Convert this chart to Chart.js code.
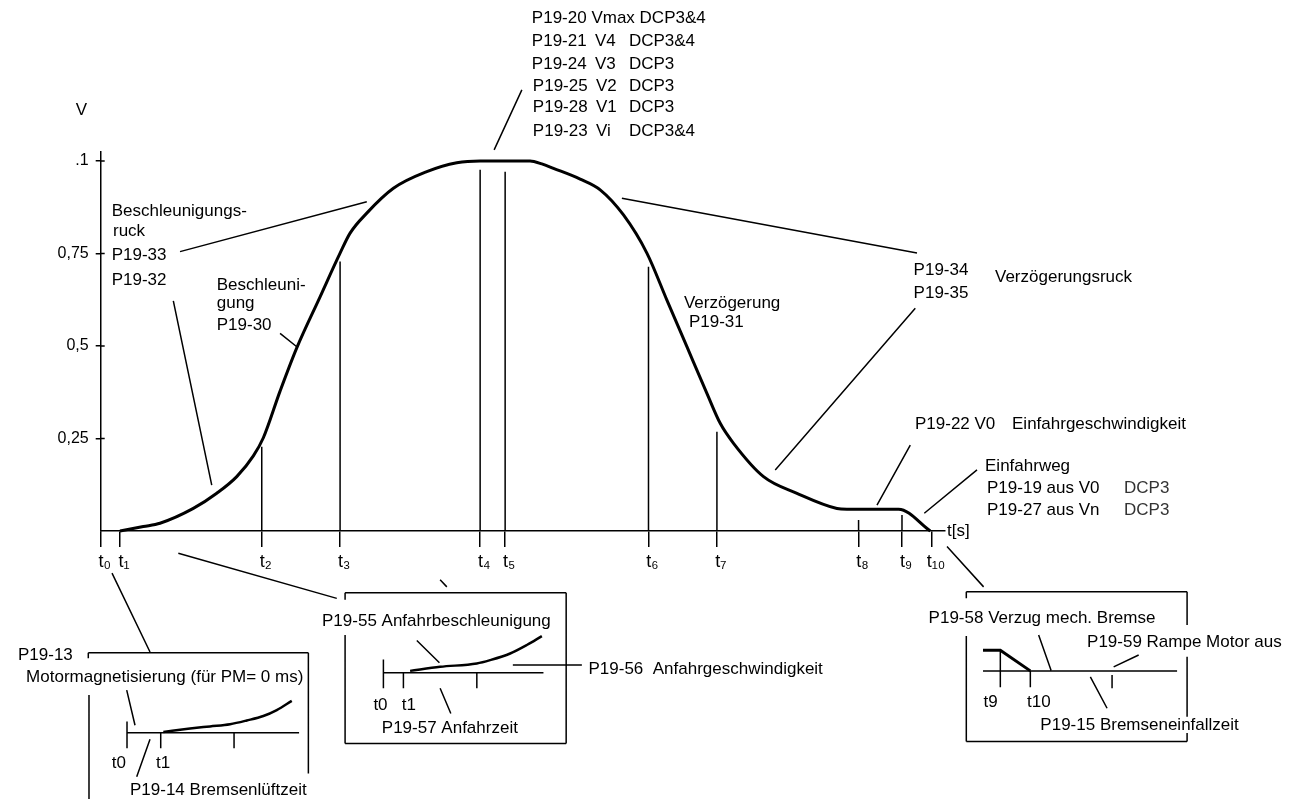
<!DOCTYPE html>
<html>
<head>
<meta charset="utf-8">
<script src="https://cdn.jsdelivr.net/npm/chart.js@4.4.1/dist/chart.umd.min.js"></script>
<style>
  html, body { margin: 0; background: #fff; }
  #wrap { width: 1290px; height: 799px; }
</style>
</head>
<body>
<div id="wrap"><canvas id="chart"></canvas></div>
<script>
// time marks t0..t10 on the time axis and how high each marker line reaches
const tickTimes  = [0, 1.93, 16.1, 23.93, 37.93, 40.43, 54.76, 61.6, 75.76, 80.1, 83.1]
const tickLabels = ['t₀', 't₁', 't₂', 't₃', 't₄', 't₅', 't₆', 't₇', 't₈', 't₉', 't₁₀']
const markerTops = [0, 0, 0.228, 0.728, 0.976, 0.971, 0.714, 0.268, 0.03, 0.043, 0]

const vTicks      = [0.25, 0.5, 0.75, 1]
const vTickLabels = ['0,25', '0,5', '0,75', '.1']

// travel curve V(t)
const profileT = [1.93, 4.26, 5.93, 9.26, 11.6, 13.6, 15.26, 16.26, 17.93, 19.6, 21.93, 23.93, 24.93, 26.6,
  29.26, 32.6, 35.6, 37.93, 42.93, 44.1, 45.26, 47.93, 49.93, 52.26, 54.6, 56.6, 58.6, 60.6, 61.93, 63.26,
  66.26, 69.6, 73.6, 74.6, 79.76, 82.93]
const profileV = [0, 0.012, 0.021, 0.061, 0.102, 0.147, 0.203, 0.252, 0.378, 0.495, 0.633, 0.751, 0.805, 0.859,
  0.926, 0.971, 0.995, 1.0, 1.0, 0.992, 0.98, 0.951, 0.922, 0.854, 0.751, 0.624, 0.498, 0.372, 0.291, 0.237,
  0.147, 0.102, 0.061, 0.059, 0.059, 0]

// detail views (drawn below the axis, same scales)
const startT  = [6.26, 8.93, 10.93, 12.93, 14.6, 16.26, 17.6, 19.1]
const startV  = [-0.543, -0.534, -0.528, -0.522, -0.512, -0.5, -0.484, -0.459]
const creepT  = [30.93, 33.93, 37.6, 38.93, 40.93, 42.6, 44.1]
const creepV  = [-0.378, -0.367, -0.358, -0.349, -0.331, -0.308, -0.284]
const brakeT  = [88.2, 89.93, 92.93]
const brakeV  = [-0.322, -0.322, -0.378]

// leader lines, frames and little axes of the detail views: [t1, v1, t2, v2]
const segments = [
  // leaders on the main curve
  [42.1, 1.192, 39.33, 1.03],
  [7.93, 0.755, 26.6, 0.89],
  [7.26, 0.622, 11.1, 0.124],
  [17.93, 0.534, 19.6, 0.498],
  [52.1, 0.899, 81.6, 0.751],
  [81.43, 0.602, 67.43, 0.165],
  [80.93, 0.232, 77.6, 0.07],
  [87.6, 0.165, 82.33, 0.048],
  // leaders to the detail views
  [1.13, -0.114, 4.93, -0.327],
  [7.76, -0.06, 23.6, -0.182],
  [33.93, -0.132, 34.6, -0.151],
  [84.6, -0.042, 88.26, -0.151],
  // view 1: brake release
  [-1.24, -0.329, 20.76, -0.329],
  [-1.24, -0.329, -1.24, -0.344],
  [-1.17, -0.443, -1.17, -0.73],
  [20.76, -0.329, 20.76, -0.655],
  [2.63, -0.545, 19.83, -0.545],
  [2.63, -0.515, 2.63, -0.587],
  [6.0, -0.545, 6.0, -0.587],
  [13.33, -0.545, 13.33, -0.587],
  [2.6, -0.43, 3.43, -0.525],
  [4.93, -0.563, 3.6, -0.664],
  // view 2: start-up
  [24.43, -0.167, 46.53, -0.167],
  [24.43, -0.167, 24.43, -0.186],
  [24.43, -0.281, 24.43, -0.574],
  [46.53, -0.167, 46.53, -0.574],
  [24.43, -0.574, 46.53, -0.574],
  [28.26, -0.383, 44.26, -0.383],
  [28.26, -0.347, 28.26, -0.425],
  [30.26, -0.383, 30.26, -0.425],
  [37.6, -0.383, 37.6, -0.425],
  [31.6, -0.296, 33.86, -0.356],
  [41.2, -0.362, 48.1, -0.362],
  [33.93, -0.425, 35.0, -0.493],
  // view 3: stopping
  [86.53, -0.164, 108.6, -0.164],
  [86.53, -0.164, 86.53, -0.182],
  [86.53, -0.284, 86.53, -0.569],
  [86.53, -0.569, 108.6, -0.569],
  [108.6, -0.164, 108.6, -0.254],
  [108.6, -0.34, 108.6, -0.502],
  [108.6, -0.546, 108.6, -0.569],
  [88.2, -0.378, 107.6, -0.378],
  [89.93, -0.322, 89.93, -0.422],
  [92.93, -0.378, 92.93, -0.422],
  [101.1, -0.389, 101.1, -0.425],
  [93.76, -0.281, 95.0, -0.376],
  [103.76, -0.335, 101.26, -0.367],
  [98.93, -0.394, 100.6, -0.479]
]

// texts: [text, t, v, align, colour]
const notes = [
  ['V', -1.92, 1.138, 'center'],
  ['P19-20 Vmax DCP3&4', 43.1, 1.386],
  ['P19-21', 43.1, 1.322], ['V4', 49.4, 1.322], ['DCP3&4', 52.8, 1.322],
  ['P19-24', 43.1, 1.262], ['V3', 49.4, 1.262], ['DCP3', 52.8, 1.262],
  ['P19-25', 43.2, 1.203], ['V2', 49.5, 1.203], ['DCP3', 52.8, 1.203],
  ['P19-28', 43.2, 1.145], ['V1', 49.5, 1.145], ['DCP3', 52.8, 1.145],
  ['P19-23', 43.2, 1.081], ['Vi', 49.5, 1.081], ['DCP3&4', 52.8, 1.081],
  ['Beschleunigungs-', 1.1, 0.863],
  ['ruck', 1.23, 0.809],
  ['P19-33', 1.1, 0.744],
  ['P19-32', 1.1, 0.678],
  ['Beschleuni-', 11.6, 0.665],
  ['gung', 11.6, 0.615],
  ['P19-30', 11.6, 0.555],
  ['Verzögerung', 58.3, 0.615],
  ['P19-31', 58.8, 0.563],
  ['P19-34', 81.26, 0.705],
  ['P19-35', 81.26, 0.642],
  ['Verzögerungsruck', 89.4, 0.685],
  ['P19-22 V0', 81.4, 0.288], ['Einfahrgeschwindigkeit', 91.1, 0.288],
  ['Einfahrweg', 88.4, 0.174],
  ['P19-19 aus V0', 88.6, 0.115], ['DCP3', 102.3, 0.115, 'left', '#333'],
  ['P19-27 aus Vn', 88.6, 0.055], ['DCP3', 102.3, 0.055, 'left', '#333'],
  ['t[s]', 84.6, 0],
  ['P19-13', -8.27, -0.335],
  ['Motormagnetisierung (für PM= 0 ms)', 20.26, -0.395, 'right'],
  ['t0', 1.1, -0.628], ['t1', 5.53, -0.628],
  ['P19-14 Bremsenlüftzeit', 2.93, -0.7],
  ['P19-55 Anfahrbeschleunigung', 44.99, -0.245, 'right'],
  ['P19-56  Anfahrgeschwindigkeit', 48.76, -0.374],
  ['t0', 27.26, -0.47], ['t1', 30.1, -0.47],
  ['P19-57 Anfahrzeit', 28.1, -0.532],
  ['P19-58 Verzug mech. Bremse', 82.76, -0.236],
  ['P19-59 Rampe Motor aus', 98.6, -0.302],
  ['t9', 88.26, -0.464], ['t10', 92.6, -0.464],
  ['P19-15 Bremseneinfallzeit', 93.93, -0.524]
]

const FONT = '17px "Liberation Sans", Arial, sans-serif'
Chart.defaults.font.family = '"Liberation Sans", Arial, sans-serif'
Chart.defaults.color = '#000'

const toPoints = (ts, vs) => ts.map((t, i) => ({ x: t, y: vs[i] }))

// vertical marker lines from the axis up towards the curve, broken by null points
const markerPoints = tickTimes.flatMap((t, i) =>
  markerTops[i] > 0 ? [{ x: t, y: 0 }, { x: t, y: markerTops[i] }, { x: t, y: null }] : [])

const curveStyle = {
  borderColor: '#000',
  borderWidth: 3,
  pointRadius: 0,
  fill: false,
  clip: false,
  cubicInterpolationMode: 'monotone'
}

const sketchPlugin = {
  id: 'sketch',
  afterDatasetsDraw(chart) {
    const { ctx, scales: { x, y } } = chart
    const px = t => x.getPixelForValue(t)
    const py = v => y.getPixelForValue(v)

    ctx.save()
    ctx.strokeStyle = '#000'
    ctx.lineWidth = 1.5
    ctx.beginPath()
    for (const [t1, v1, t2, v2] of segments) {
      ctx.moveTo(px(t1), py(v1))
      ctx.lineTo(px(t2), py(v2))
    }
    // V ticks cross the axis a little on the inner side as well
    for (const v of vTicks) {
      ctx.moveTo(px(0), py(v))
      ctx.lineTo(px(0) + 4, py(v))
    }
    ctx.stroke()

    ctx.font = FONT
    ctx.textBaseline = 'middle'
    for (const [text, t, v, align, colour] of notes) {
      ctx.textAlign = align || 'left'
      ctx.fillStyle = colour || '#000'
      ctx.fillText(text, px(t), py(v))
    }
    ctx.restore()
  }
}

new Chart(document.getElementById('chart'), {
  type: 'line',
  data: {
    datasets: [
      { ...curveStyle, data: toPoints(profileT, profileV) },
      { borderColor: '#000', borderWidth: 1.5, pointRadius: 0, spanGaps: false, clip: false, data: markerPoints },
      { ...curveStyle, borderWidth: 2.5, data: toPoints(startT, startV) },
      { ...curveStyle, borderWidth: 2.5, data: toPoints(creepT, creepV) },
      { ...curveStyle, cubicInterpolationMode: 'default', tension: 0, data: toPoints(brakeT, brakeV) }
    ]
  },
  options: {
    responsive: true,
    maintainAspectRatio: false,
    animation: false,
    layout: { padding: { left: 40.7, right: 345, top: 151.7, bottom: 218 } },
    plugins: { legend: { display: false }, tooltip: { enabled: false } },
    scales: {
      x: {
        type: 'linear',
        bounds: 'data',
        afterDataLimits: s => { s.min = 0; s.max = 84.4 },
        afterBuildTicks: s => { s.ticks = tickTimes.map(v => ({ value: v })) },
        afterFit: s => { s.height = 50 },
        border: { color: '#000', width: 1.5 },
        grid: { drawOnChartArea: false, color: '#000', lineWidth: 1.5, tickLength: 16 },
        ticks: {
          autoSkip: false,
          maxRotation: 0,
          padding: 4,
          labelOffset: 4,
          font: { size: 18 },
          callback: (value, index) => tickLabels[index]
        }
      },
      y: {
        type: 'linear',
        bounds: 'data',
        afterDataLimits: s => { s.min = 0; s.max = 1.025 },
        afterBuildTicks: s => { s.ticks = vTicks.map(v => ({ value: v })) },
        afterFit: s => { s.width = 60 },
        border: { color: '#000', width: 1.5 },
        grid: { drawOnChartArea: false, color: '#000', lineWidth: 1.5, tickLength: 5 },
        ticks: {
          padding: 7,
          font: { size: 16 },
          callback: (value, index) => vTickLabels[index]
        }
      }
    }
  },
  plugins: [sketchPlugin]
})
</script>
</body>
</html>
